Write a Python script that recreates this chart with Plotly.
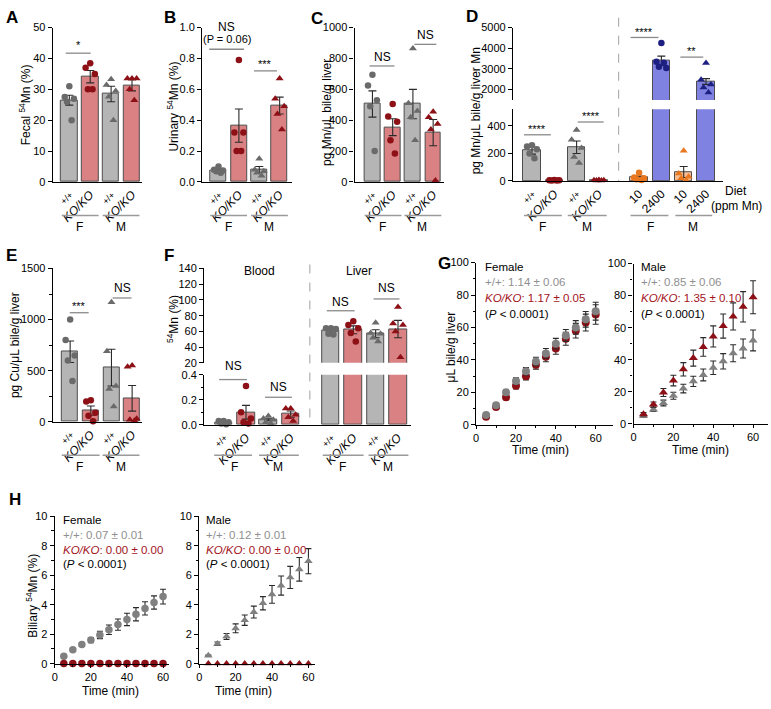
import plotly.graph_objects as go

W, H = 771, 709

def fx(x):
    return x / W

def fy(y):
    return 1 - y / H

FONT = "Liberation Sans, Arial, sans-serif"
GRAY_FILL = "#b5b5b5"
RED_FILL = "#d98183"
BLUE_FILL = "#8082e2"
ORANGE_FILL = "#f7bd92"
WT = "#6a6a6a"
KO = "#8c1016"
NAVY = "#1d2080"
ORANGE = "#e8771f"
EDGE = "#4d4d4d"
TXT_GRAY = "#8f8f8f"
TXT_RED = "#a3131c"

# ---------------- data ----------------
geno = ["+/+", "KO/KO", "+/+", "KO/KO"]
diet_cats = ["+/+", "KO/KO", "+/+", "KO/KO", "10", "2400", "10", "2400"]

# A fecal 54Mn (%)
fecal_mean = [26.5, 34.1, 28.5, 31.3]
fecal_sem = [1.6, 2.0, 2.5, 1.8]
fecal_pts = [[31, 27.5, 27, 26, 20], [38.5, 37, 35, 30, 30],
             [33.3, 31.4, 29.5, 27.6, 20], [33.5, 33.5, 33.5, 30, 26.5]]

# B urinary 54Mn (%)
urine_mean = [0.075, 0.365, 0.08, 0.495]
urine_sem = [0.008, 0.108, 0.02, 0.055]
urine_pts = [[0.10, 0.08, 0.075, 0.07, 0.06], [0.79, 0.32, 0.32, 0.20, 0.20],
             [0.15, 0.08, 0.07, 0.06, 0.04], [0.67, 0.54, 0.49, 0.44, 0.34]]

# C pg Mn / uL bile / g liver
bileMn_mean = [505, 355, 505, 320]
bileMn_sem = [85, 55, 95, 85]
bileMn_pts = [[695, 625, 530, 490, 200], [505, 425, 390, 270, 185],
              [865, 510, 460, 420, 270], [455, 420, 375, 340, 10]]

# D diet experiment
diet_mean = [220, 5, 245, 5, 25, 3390, 65, 2390]
diet_sem = [25, 1, 45, 1, 10, 230, 40, 140]
diet_pts = [[260, 250, 230, 200, 165], [8, 6, 5, 4, 3],
            [370, 300, 240, 175, 130], [8, 6, 5, 4, 3],
            [60, 25, 20, 12, 8], [4250, 3350, 3050, 3100, 3300],
            [220, 55, 30, 20, 5], [3290, 2480, 2240, 2100, 1860]]

# E pg Cu / uL bile / g liver
bileCu_mean = [685, 110, 530, 230]
bileCu_sem = [105, 45, 180, 125]
bileCu_pts = [[1000, 800, 650, 600, 400], [210, 200, 90, 60, 5],
              [1170, 690, 350, 320, 150], [550, 540, 30, 20, 10]]

# F tissue 54Mn (%) : blood then liver
tissue_mean = [0.02, 0.10, 0.04, 0.085, 61, 62, 57, 63]
tissue_sem = [0.005, 0.055, 0.008, 0.025, 2, 5, 5, 11]
tissue_pts = [[0.03, 0.03, 0.02, 0.01, 0.005], [0.31, 0.10, 0.05, 0.02, 0.01],
              [0.07, 0.05, 0.04, 0.02, 0.01], [0.13, 0.13, 0.08, 0.06, 0.03],
              [64, 64, 63, 57, 56], [73, 68, 64, 58, 47],
              [71, 58, 57, 52, 47], [91, 70, 68, 60, 27]]

# G bile flow (uL bile/g liver)
time_min = [5, 10, 15, 20, 25, 30, 35, 40, 45, 50, 55, 60]
flow_f_wt = [6, 12, 20, 27, 33, 39, 44, 50, 55, 60, 65, 70]
flow_f_wt_sem = [0.8, 1.2, 1.6, 2.0, 2.3, 2.6, 3.0, 3.3, 3.7, 4.2, 4.8, 5.5]
flow_f_ko = [5, 11, 17, 24, 30, 37, 42, 47, 53, 58, 63, 68]
flow_f_ko_sem = [0.7, 1.1, 1.5, 1.9, 2.3, 2.7, 3.1, 3.5, 4.0, 4.5, 5.2, 6.0]
flow_m_wt = [5, 9, 13, 17.5, 22, 26.5, 30.5, 35, 39, 44, 47, 52]
flow_m_wt_sem = [0.8, 1.3, 1.8, 2.2, 2.7, 3.2, 3.7, 4.2, 4.8, 5.3, 5.9, 6.5]
flow_m_ko = [6, 12, 19.5, 27, 34, 41, 48, 54.5, 61, 67, 73, 79]
flow_m_ko_sem = [1.0, 1.6, 2.5, 3.3, 4.2, 5.0, 5.8, 6.6, 7.5, 8.5, 9.5, 10.3]

# H biliary 54Mn (%)
bil_f_wt = [0.5, 0.95, 1.3, 1.6, 1.95, 2.3, 2.65, 3.0, 3.35, 3.75, 4.15, 4.55]
bil_f_wt_sem = [0.03, 0.06, 0.12, 0.18, 0.25, 0.32, 0.38, 0.42, 0.45, 0.45, 0.45, 0.5]
bil_f_ko = [0.01, 0.01, 0.01, 0.01, 0.01, 0.01, 0.01, 0.01, 0.01, 0.01, 0.01, 0.01]
bil_m_wt = [0.55, 1.35, 1.85, 2.4, 2.95, 3.5, 4.1, 4.7, 5.3, 5.85, 6.4, 6.95]
bil_m_wt_sem = [0.03, 0.12, 0.2, 0.3, 0.35, 0.4, 0.45, 0.6, 0.65, 0.75, 0.8, 0.85]
bil_m_ko = [0.01, 0.01, 0.01, 0.01, 0.01, 0.01, 0.01, 0.01, 0.01, 0.01, 0.01, 0.01]

# ---------------- figure ----------------
fig = go.Figure()
layout = {}
shapes = []
annots = []

POS4 = [0, 1, 2, 3]
POS8 = [0, 1, 2, 3, 4.8, 5.8, 6.8, 7.8]
JIT = [0, -0.22, 0.22, -0.11, 0.11]


def tick_label(c):
    if c == "+/+":
        return "<span style='font-size:9px'>+/+</span>"
    if c == "KO/KO":
        return "<i>KO/KO</i>"
    return c


def axes(n, x0, x1, y0, y1, xr, yr, xkw=None, ykw=None, fs=11):
    s = "" if n == 1 else str(n)
    base = dict(showline=True, linecolor="black", linewidth=1.3, showgrid=False,
                zeroline=False, ticks="outside", ticklen=4, tickwidth=1.2,
                tickcolor="black", tickfont=dict(size=fs, color="black", family=FONT))
    xa = dict(base, domain=[fx(x0), fx(x1)], anchor="y" + s, range=xr)
    ya = dict(base, domain=[fy(y1), fy(y0)], anchor="x" + s, range=yr)
    xa.update(xkw or {})
    ya.update(ykw or {})
    layout["xaxis" + s] = xa
    layout["yaxis" + s] = ya


def cat_x(pos, labels):
    return dict(tickvals=pos, ticktext=[tick_label(c) for c in labels],
                tickangle=-45, ticks="", tickfont=dict(size=12, color="black", family=FONT))


def bar_panel(n, pos, means, sems, pts, fills, mcols, syms, keep=None):
    s = "" if n == 1 else str(n)
    xa, ya = "x" + s, "y" + s
    ok = keep or (lambda v: True)
    fig.add_trace(go.Bar(x=pos, y=means, width=0.78,
                         marker=dict(color=fills, line=dict(color=EDGE, width=1)),
                         xaxis=xa, yaxis=ya, showlegend=False, hoverinfo="skip"))
    ex = [p for p, m in zip(pos, means) if ok(m)]
    ey = [m for m in means if ok(m)]
    es = [e for m, e in zip(means, sems) if ok(m)]
    fig.add_trace(go.Scatter(x=ex, y=ey, mode="markers",
                             marker=dict(size=1, color="rgba(0,0,0,0)"),
                             error_y=dict(type="data", array=es, color="#2a2a2a",
                                          thickness=1.1, width=4),
                             xaxis=xa, yaxis=ya, showlegend=False, hoverinfo="skip"))
    for p, vals, c, sym in zip(pos, pts, mcols, syms):
        xs = [p + JIT[i] for i, v in enumerate(vals) if ok(v)]
        ys = [v for v in vals if ok(v)]
        fig.add_trace(go.Scatter(x=xs, y=ys, mode="markers",
                                 marker=dict(size=6.5 if sym == "circle" else 7,
                                             symbol=sym, color=c),
                                 xaxis=xa, yaxis=ya, showlegend=False,
                                 hoverinfo="skip", cliponaxis=False))


def text(x, y, t, size=12, color="black", **kw):
    d = dict(x=fx(x), y=fy(y), xref="paper", yref="paper", text=t, showarrow=False,
             font=dict(size=size, color=color, family=FONT), xanchor="center",
             yanchor="middle")
    d.update(kw)
    annots.append(d)


def hline(x0, x1, y, color="#8a8a8a", width=1.3):
    shapes.append(dict(type="line", xref="paper", yref="paper", x0=fx(x0), x1=fx(x1),
                       y0=fy(y), y1=fy(y), line=dict(color=color, width=width)))


def vdash(x, y0, y1):
    shapes.append(dict(type="line", xref="paper", yref="paper", x0=fx(x), x1=fx(x),
                       y0=fy(y0), y1=fy(y1), line=dict(color="#b0b0b0", width=1.2, dash="dash")))


fill4 = [GRAY_FILL, RED_FILL, GRAY_FILL, RED_FILL]
col4 = [WT, KO, WT, KO]
sym4 = ["circle", "circle", "triangle-up", "triangle-up"]

# A
axes(1, 50, 140, 22, 179, [-0.79, 3.5], [0, 50], cat_x(POS4, geno), dict(dtick=10))
bar_panel(1, POS4, fecal_mean, fecal_sem, fecal_pts, fill4, col4, sym4)
# B
axes(2, 200, 290, 22, 179, [-0.8, 3.6], [0, 1], cat_x(POS4, geno),
     dict(dtick=0.2, tickformat=".1f"))
bar_panel(2, POS4, urine_mean, urine_sem, urine_pts, fill4, col4, sym4)
# C
axes(3, 353, 443, 22, 179, [-0.88, 3.55], [0, 1000], cat_x(POS4, geno), dict(dtick=200))
bar_panel(3, POS4, bileMn_mean, bileMn_sem, bileMn_pts, fill4, col4, sym4)

# D (broken axis)
fill8 = [GRAY_FILL, RED_FILL, GRAY_FILL, RED_FILL, ORANGE_FILL, BLUE_FILL, ORANGE_FILL, BLUE_FILL]
col8d = [WT, KO, WT, KO, ORANGE, NAVY, ORANGE, NAVY]
sym8 = ["circle", "circle", "triangle-up", "triangle-up"] * 2
axes(4, 512, 723, 105, 178, [-0.85, 8.57], [0, 521], cat_x(POS8, diet_cats),
     dict(tickvals=[0, 200, 400]))
bar_panel(4, POS8, diet_mean, diet_sem, diet_pts, fill8, col8d, sym8, keep=lambda v: v <= 521)
axes(5, 512, 723, 22, 95.5, [-0.85, 8.57], [1500, 5000], dict(visible=False),
     dict(tickvals=[2000, 3000, 4000, 5000]))
bar_panel(5, POS8, diet_mean, diet_sem, diet_pts, fill8, col8d, sym8, keep=lambda v: v >= 1500)

# E
axes(6, 50, 140, 267, 423, [-0.84, 3.5], [0, 1500], cat_x(POS4, geno),
     dict(tickvals=[0, 500, 1000, 1500], minor=dict(dtick=250, ticklen=2.5, ticks="outside")))
bar_panel(6, POS4, bileCu_mean, bileCu_sem, bileCu_pts, fill4, col4, sym4)

# F (broken axis)
col8f = [WT, KO, WT, KO] * 2
axes(7, 202, 410, 375, 426, [-0.87, 8.4], [0, 0.4], cat_x(POS8, geno + geno),
     dict(tickvals=[0, 0.2, 0.4], tickformat=".1f",
          minor=dict(dtick=0.1, ticklen=2.5, ticks="outside")))
bar_panel(7, POS8, tissue_mean, tissue_sem, tissue_pts, fill8[:4] * 2, col8f, sym8,
          keep=lambda v: v <= 0.4)
axes(8, 202, 410, 267, 363, [-0.87, 8.4], [20, 140], dict(visible=False), dict(dtick=20))
bar_panel(8, POS8, tissue_mean, tissue_sem, tissue_pts, fill8[:4] * 2, col8f, sym8,
          keep=lambda v: v >= 20)


# G and H time courses
def time_panel(n, series):
    s = str(n)
    for ys, err, col, sym, size in series:
        fig.add_trace(go.Scatter(
            x=time_min, y=ys, mode="markers",
            marker=dict(symbol=sym, size=size, color=col),
            error_y=dict(type="data", array=err, color="#2a2a2a", thickness=1.1, width=3,
                         visible=err is not None),
            xaxis="x" + s, yaxis="y" + s, showlegend=False, hoverinfo="skip",
            cliponaxis=False))


tminor = dict(dtick=10, ticklen=2.5, ticks="outside")
tx = dict(dtick=20, minor=tminor, ticklen=3)
axes(9, 475, 612, 261, 426, [0, 68.5], [0, 100], tx, dict(dtick=20, minor=tminor))
time_panel(9, [(flow_f_ko, flow_f_ko_sem, KO, "circle", 8),
               (flow_f_wt, flow_f_wt_sem, "#808080", "circle", 8)])
axes(10, 633, 768, 262, 425, [0, 67.5], [0, 100], tx, dict(dtick=20, minor=tminor))
time_panel(10, [(flow_m_wt, flow_m_wt_sem, "#808080", "triangle-up", 8),
                (flow_m_ko, flow_m_ko_sem, KO, "triangle-up", 8)])

hminor = dict(dtick=1, ticklen=2.5, ticks="outside")
axes(11, 52, 167, 519, 669, [0, 63.5], [0, 10], tx, dict(dtick=2, minor=hminor))
time_panel(11, [(bil_f_wt, bil_f_wt_sem, "#808080", "circle", 7.5),
                (bil_f_ko, None, KO, "circle", 7.5)])
axes(12, 197, 313, 519, 669, [0, 63.5], [0, 10], tx, dict(dtick=2, minor=hminor))
time_panel(12, [(bil_m_wt, bil_m_wt_sem, "#808080", "triangle-up", 7.5),
                (bil_m_ko, None, KO, "triangle-up", 7)])

# ---------------- annotations ----------------
for lab, x, y in [("A", 9, 12), ("B", 168, 12), ("C", 315, 13), ("D", 471, 11),
                  ("E", 9, 254), ("F", 167, 254), ("G", 443, 262), ("H", 12, 502)]:
    text(x, y, "<b>%s</b>" % lab, size=17)

for t, x, y in [("Fecal <sup>54</sup>Mn (%)", 22, 100),
                ("Urinary <sup>54</sup>Mn (%)", 171, 102),
                ("pg Mn/μL bile/g liver", 325, 108),
                ("pg Mn/μL bile/g liver Mn", 475, 107),
                ("pg Cu/μL bile/g liver", 12, 345),
                ("<sup>54</sup>Mn (%)", 170, 318),
                ("μL bile/g liver", 450, 347),
                ("Biliary <sup>54</sup>Mn (%)", 29, 600)]:
    text(x, y, t, size=12, textangle=-90)

for x, y in [(540, 452), (700, 452), (108, 697), (241, 697)]:
    text(x, y, "Time (min)", size=12)

# group lines under bar charts
groups = [
    (59, 96, 77, 100, 137, 118, 213, 225),
    (208, 245, 226, 249, 286, 267, 213, 225),
    (363, 400, 381, 403, 440, 421, 213, 225),
    (523, 561, 542, 567, 606, 586, 213, 225),
    (630, 668, 650, 675, 712, 693, 213, 225),
    (59, 97, 77, 100, 137, 118, 457, 469),
    (212, 250, 232, 257, 297, 276, 457, 469),
    (321, 362, 341, 367, 407, 387, 457, 469),
]
for f0, f1, fc, m0, m1, mc, ly, ty in groups:
    hline(f0, f1, ly, color="#9a9a9a", width=1.5)
    hline(m0, m1, ly, color="#9a9a9a", width=1.5)
    text(fc, ty, "F", size=12)
    text(mc, ty, "M", size=12)

text(736, 188, "Diet", size=12)
text(736, 203, "(ppm Mn)", size=12)
text(258, 270, "Blood", size=12)
text(357, 270, "Liver", size=12)

vdash(618, 12, 178)
vdash(308, 263, 426)

# significance
sig = [
    (63, 88, 48, "*", 40),
    (207, 242, 44, "(P = 0.06)", 34),
    (252, 275, 66, "***", 59),
    (368, 393, 61, "NS", 52),
    (413, 435, 39, "NS", 30),
    (523, 550, 131, "****", 125),
    (577, 603, 118, "****", 112),
    (630, 658, 32, "****", 26),
    (680, 703, 52, "**", 46),
    (67, 86, 312, "***", 305),
    (110, 129, 297, "NS", 287),
    (217, 245, 380, "NS", 366),
    (263, 290, 398, "NS", 388),
    (325, 353, 310, "NS", 301),
    (372, 398, 298, "NS", 287),
]
for x0, x1, ly, t, ty in sig:
    hline(x0, x1, ly)
    text((x0 + x1) / 2, ty, t, size=11 if "*" in t or "P" in t else 12)
text(224.5, 21, "NS", size=12)

# G / H legends
stats = [
    (482, 265, "Female", "1.14 ± 0.06", "1.17 ± 0.05", 16),
    (638, 265, "Male", "0.85 ± 0.06", "1.35 ± 0.10", 16),
    (58, 523, "Female", "0.07 ± 0.01", "0.00 ± 0.00", 15),
    (202, 523, "Male", "0.12 ± 0.01", "0.00 ± 0.00", 15),
]
for x, y, sex, wt, ko, dy in stats:
    text(x, y, sex, size=11.5, xanchor="left")
    text(x, y + dy, "+/+: " + wt, size=11.5, color=TXT_GRAY, xanchor="left")
    text(x, y + 2 * dy, "<i>KO/KO</i>: " + ko, size=11.5, color=TXT_RED, xanchor="left")
    text(x, y + 3 * dy, "(<i>P</i> < 0.0001)", size=11.5, xanchor="left")

layout.update(dict(width=W, height=H, margin=dict(l=0, r=0, t=0, b=0),
                   paper_bgcolor="white", plot_bgcolor="white", bargap=0,
                   font=dict(family=FONT, color="black"),
                   shapes=shapes, annotations=annots, showlegend=False))
fig.update_layout(**layout)
# the page's default 8px body margin would shift the whole figure
fig.write_html("out.html", config={"displayModeBar": False},
               post_script="document.body.style.margin='0px';")
